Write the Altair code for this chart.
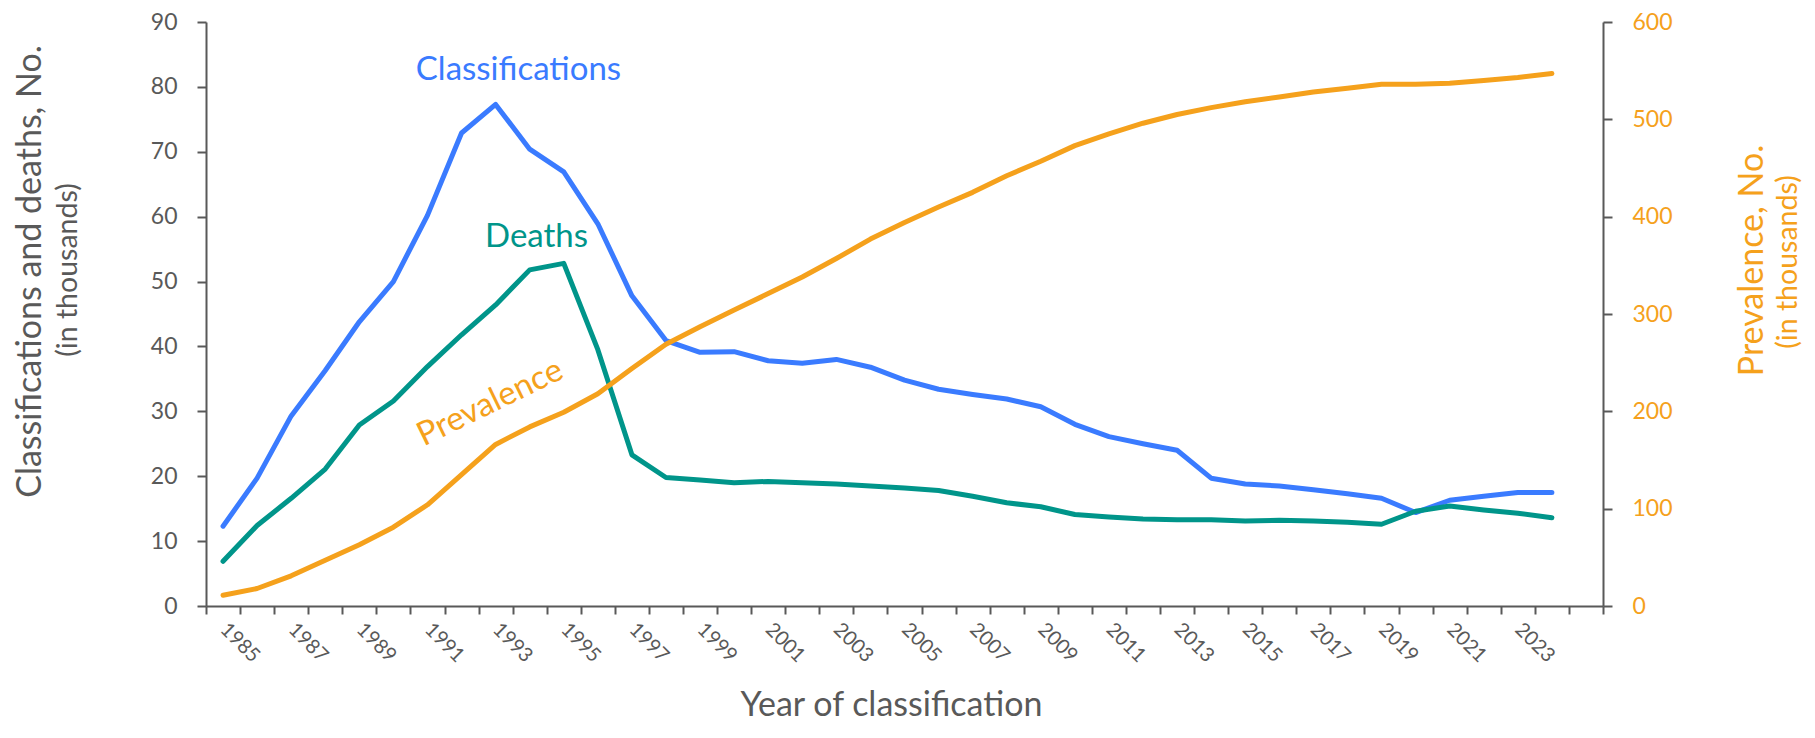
import altair as alt
import pandas as pd

# ---------------- data ----------------
years = list(range(1985, 2025))
classifications = [12.3, 19.7, 29.3, 36.3, 43.8, 50.0, 60.2, 72.9, 77.3, 70.4,
                   66.9, 58.9, 47.8, 40.9, 39.1, 39.2, 37.8, 37.4, 38.0, 36.8,
                   34.8, 33.4, 32.6, 31.9, 30.7, 28.0, 26.1, 25.0, 24.0, 19.7,
                   18.8, 18.5, 17.9, 17.3, 16.6, 14.4, 16.3, 16.9, 17.5, 17.5]
deaths = [6.9, 12.4, 16.6, 21.1, 27.9, 31.6, 36.9, 41.8, 46.4, 51.8,
          52.8, 39.5, 23.3, 19.8, 19.4, 19.0, 19.2, 19.0, 18.8, 18.5,
          18.2, 17.8, 16.9, 15.9, 15.3, 14.1, 13.7, 13.4, 13.3, 13.3,
          13.1, 13.2, 13.1, 12.9, 12.6, 14.6, 15.4, 14.8, 14.3, 13.6]
prevalence = [11, 18, 31, 47, 63, 81, 104, 135, 166, 184,
              199, 218, 244, 269, 287, 304, 321, 338, 357, 377,
              394, 410, 425, 442, 457, 473, 485, 496, 505, 512,
              518, 523, 528, 532, 536, 536, 537, 540, 543, 547]

left_ticks = list(range(0, 91, 10))
right_ticks = list(range(0, 601, 100))
x_tick_years = list(range(1985, 2027))  # category boundaries (year - 0.5)

series_names = ["Classifications", "Deaths"]
ann_left_labels = ["Classifications", "Deaths"]
ann_left_years = [1993.67, 1994.2]
ann_left_values = [82.6, 56.9]
ann_prev_label = ["Prevalence"]
ann_prev_year = [1992.84]
ann_prev_value = [208.6]

left_title = "Classifications and deaths, No."
right_title = "Prevalence, No."
sub_title = "(in thousands)"
x_title = "Year of classification"

# ---------------- styling ----------------
GRAY = "#595959"
BLUE = "#3A7BFF"
TEAL = "#00958A"
ORANGE = "#F5A11C"
FONT = "Lato"

df = pd.DataFrame({"Year": years, "Classifications": classifications,
                   "Deaths": deaths, "Prevalence": prevalence})
ann_left = pd.DataFrame({"series": ann_left_labels, "Year": ann_left_years,
                         "value": ann_left_values})
ann_prev = pd.DataFrame({"label": ann_prev_label, "Year": ann_prev_year,
                         "Prevalence": ann_prev_value})

x_scale = alt.Scale(domain=[1984.5, 2025.5], nice=False, zero=False)
left_scale = alt.Scale(domain=[0, 90], nice=False)
right_scale = alt.Scale(domain=[0, 600], nice=False)
color_scale = alt.Scale(domain=series_names, range=[BLUE, TEAL])

x_axis = alt.Axis(
    values=[y - 0.5 for y in x_tick_years],
    labelExpr="((datum.value + 0.5) % 2 == 1 && datum.value + 0.5 <= 2023) ? '' + (datum.value + 0.5) : ''",
    labelAngle=45, labelAlign="left", labelBaseline="middle",
    labelFontSize=20, labelColor=GRAY, labelFont=FONT,
    labelPadding=12, labelOffset=17, labelOverlap=False, labelFlush=False, labelBound=False,
    tickSize=8, tickWidth=2, tickColor=GRAY, domainColor=GRAY, domainWidth=2,
    grid=False,
    title=x_title, titleFont=FONT, titleFontSize=34, titleFontWeight="normal",
    titleColor=GRAY, titleX=685, titleY=109, titleAlign="center",
    titleBaseline="alphabetic", titleAngle=0,
)

left_axis = alt.Axis(
    values=left_ticks, format="d", orient="left",
    labelFontSize=23, labelColor=GRAY, labelFont=FONT, labelPadding=20,
    tickSize=9, tickWidth=2, tickColor=GRAY, domainColor=GRAY, domainWidth=2,
    grid=False,
    title=left_title, titleFont=FONT, titleFontSize=34, titleFontWeight="normal",
    titleColor=GRAY, titleX=-176, titleY=249, titleAngle=270,
    titleAlign="center", titleBaseline="middle",
)

right_axis = alt.Axis(
    values=right_ticks, format="d", orient="right",
    labelFontSize=23, labelColor=ORANGE, labelFont=FONT, labelPadding=20,
    tickSize=9, tickWidth=2, tickColor=GRAY, domainColor=GRAY, domainWidth=2,
    grid=False,
    title=right_title, titleFont=FONT, titleFontSize=34, titleFontWeight="normal",
    titleColor=ORANGE, titleX=149, titleY=238, titleAngle=270,
    titleAlign="center", titleBaseline="middle",
)

X = alt.X("Year:Q", scale=x_scale, axis=x_axis)
line_kw = dict(strokeWidth=5, strokeCap="round", strokeJoin="round")

left_lines = alt.Chart(df).transform_fold(
    series_names, as_=["series", "value"]
).mark_line(**line_kw).encode(
    x=X,
    y=alt.Y("value:Q", scale=left_scale, axis=left_axis),
    color=alt.Color("series:N", scale=color_scale, legend=None),
)

left_text = alt.Chart(ann_left).mark_text(
    font=FONT, fontSize=33, align="center", baseline="middle"
).encode(
    x=X,
    y=alt.Y("value:Q", scale=left_scale, axis=left_axis),
    color=alt.Color("series:N", scale=color_scale, legend=None),
    text="series:N",
)

left_layer = alt.layer(left_lines, left_text)

prev_line = alt.Chart(df).mark_line(color=ORANGE, **line_kw).encode(
    x=X,
    y=alt.Y("Prevalence:Q", scale=right_scale, axis=right_axis),
)
prev_text = alt.Chart(ann_prev).mark_text(
    font=FONT, fontSize=33, color=ORANGE, align="center", baseline="middle", angle=334
).encode(
    x=X,
    y=alt.Y("Prevalence:Q", scale=right_scale, axis=right_axis),
    text="label:N",
)
right_layer = alt.layer(prev_line, prev_text)

dual = alt.layer(left_layer, right_layer).resolve_scale(y="independent")

subs = pd.DataFrame({"t": [sub_title]})
sub_left = alt.Chart(subs).mark_text(
    font=FONT, fontSize=28.5, color=GRAY, angle=270, align="center", baseline="middle"
).encode(x=alt.value(-138), y=alt.value(248), text="t:N")
sub_right = alt.Chart(subs).mark_text(
    font=FONT, fontSize=28.5, color=ORANGE, angle=270, align="center", baseline="middle"
).encode(x=alt.value(1582), y=alt.value(240), text="t:N")

chart = alt.layer(dual, sub_left, sub_right).properties(
    width=1397, height=584,
    padding={"left": 198, "top": 14, "right": 200, "bottom": 118},
    autosize=alt.AutoSizeParams(type="none"),
).configure(font=FONT).configure_view(stroke=None)

chart.save("out.html", embed_options={"renderer": "svg", "actions": False})
